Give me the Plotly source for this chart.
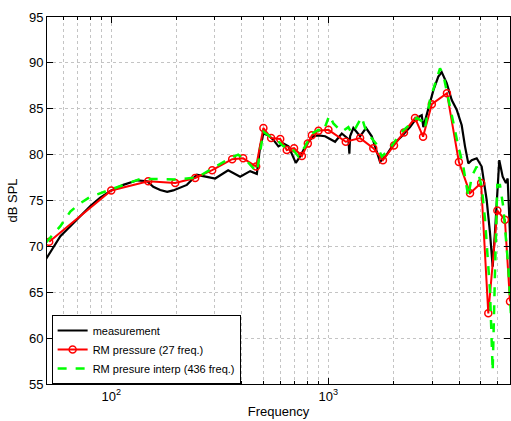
import numpy as np
import plotly.graph_objects as go

# measurement (black)
meas_f = [50, 58.3, 64.8, 72.0, 80.1, 89.0, 100, 113.6, 131.7, 146.4, 156.1, 168.1, 181.0, 192.9,
          223.0, 248.0, 275.7, 301.0, 345.5, 392.3, 436.2, 468.3, 485.0, 502.2, 529.5, 558.3,
          588.6, 620.6, 654.6, 707.9, 741.0, 795.5, 853.1, 899.5, 965.6, 1073.6, 1152.6, 1236.0,
          1249.2, 1258.5, 1303.2, 1399.3, 1491.1, 1583.9, 1640.3, 1729.6, 1856.7, 1991.0, 2176.3,
          2376.9, 2551.5, 2690.3, 2736.5, 2885.3, 3042.5, 3207.9, 3325.2, 3506.1, 3698.9, 3898.3,
          4111.1, 4257.1, 4408.7, 4570.0, 4818.5, 5080.6, 5357.5, 5548.1, 5708.8, 5850.0, 6122.8,
          6346.8, 6572.9, 6692.0, 6857.4, 6950]
meas_db = [68.6, 71.1, 72.2, 73.3, 74.4, 75.3, 76.1, 76.7, 77.2, 77.1, 76.5, 76.15, 75.95, 76.1,
           76.7, 77.8, 77.6, 77.4, 78.3, 77.6, 78.2, 77.9, 80.9, 82.3, 82.1, 81.6,
           80.9, 81.2, 80.9, 79.1, 79.8, 81.2, 82.0, 82.1, 82.0, 81.4, 82.3, 81.7,
           80.1, 82.0, 82.9, 82.0, 82.9, 82.0, 80.9, 79.2, 80.0, 81.1, 82.0,
           83.0, 84.0, 84.3, 83.0, 84.9, 87.0, 88.5, 89.0, 87.8, 85.95, 84.9,
           83.2, 80.9, 79.05, 79.4, 79.6, 78.7, 75.05, 71.5, 67.8, 71.5, 79.4,
           77.6, 76.9, 77.4, 71.4, 62.0]

# RM pressure (red, markers)
rm_f = [51.8, 100, 148.0, 197.0, 243.5, 291.6, 360.5, 405.0, 464.9, 502, 545, 600, 643, 695, 755,
        804, 839, 900, 1000, 1202, 1400, 1610, 1783, 2005, 2229, 2505, 2729, 2994, 3515, 3990,
        4490, 5050, 5450, 6000, 6500, 6860]
rm_db = [70.5, 76.1, 77.1, 76.9, 77.45, 78.3, 79.5, 79.6, 78.7, 82.9, 81.8, 81.7, 80.5, 80.7, 79.85,
         81.2, 82.1, 82.6, 82.7, 81.4, 81.8, 80.7, 79.4, 81.0, 82.4, 84.0, 81.95, 85.5, 86.7, 79.2,
         75.8, 76.9, 62.7, 73.9, 72.9, 64.0]

# RM pressure interp (green dashed)
itp_f = [50, 58.3, 64.8, 72.0, 80.1, 89.0, 100, 118.1, 136.0, 156.1, 181.0, 200.6, 248.0, 294.7,
         352.7, 384.1, 421.2, 468.3, 502.2, 539.1, 578.7, 620.6, 666.5, 727.6, 781.3, 838.8,
         899.5, 948.4, 1010.6, 1054.4, 1152.6, 1236.0, 1281.3, 1341.2, 1424.7, 1475.4, 1555.6,
         1657.8, 1760.9, 1856.7, 1991.0, 2137.5, 2334.1, 2551.5, 2718.9, 2786.1, 2937.8, 3097.6,
         3266.0, 3382.4, 3566.4, 3762.0, 3966.1, 4181.3, 4408.7, 4570.0, 4818.5, 5080.6, 5261.5,
         5548.1, 5708.8, 5850.0, 5994.5, 6168.1, 6387.9, 6735.2, 6950]
itp_db = [70.4, 72.2, 73.8, 74.7, 75.4, 75.8, 76.2, 76.9, 77.35, 77.35, 77.3, 77.3, 77.5, 78.5,
          79.6, 80.0, 79.3, 78.1, 82.5, 81.95, 81.6, 80.9, 80.9, 79.8, 80.9, 82.3,
          82.7, 82.5, 84.3, 83.4, 82.5, 83.0, 82.3, 83.0, 84.1, 82.9, 82.0,
          81.2, 79.8, 80.3, 81.2, 82.3, 83.2, 84.0, 83.6, 82.9, 86.0, 87.8,
          89.4, 88.7, 86.0, 83.4, 80.9, 78.7, 75.4, 77.6, 78.7, 76.5, 73.0,
          65.2, 56.4, 67.1, 76.7, 76.7, 74.3, 67.8, 62.0]

y_ticks = [55, 60, 65, 70, 75, 80, 85, 90, 95]
x_major = [100, 1000]
x_major_text = ["10<sup>2</sup>", "10<sup>3</sup>"]
x_minor = [50, 60, 70, 80, 90, 200, 300, 400, 500, 600, 700, 800, 900,
           2000, 3000, 4000, 5000, 6000]

FONT = "Liberation Sans, Arial, sans-serif"
GRID = "#c4c4c4"

fig = go.Figure()
fig.add_trace(go.Scatter(x=meas_f, y=meas_db, mode="lines", name="measurement",
                         line=dict(color="black", width=2.2)))
fig.add_trace(go.Scatter(x=rm_f, y=rm_db, mode="lines+markers", name="RM pressure (27 freq.)",
                         line=dict(color="#ff0000", width=2),
                         marker=dict(symbol="circle-open", size=7, color="#ff0000",
                                     line=dict(width=1.5, color="#ff0000"))))
fig.add_trace(go.Scatter(x=itp_f, y=itp_db, mode="lines", name="RM presure interp (436 freq.)",
                         line=dict(color="#00ff00", width=2.5, dash="dash")))

fig.update_layout(
    width=511, height=421,
    margin=dict(l=47, r=1, t=17, b=37),
    paper_bgcolor="white", plot_bgcolor="white",
    font=dict(family=FONT, size=13, color="black"),
    showlegend=True,
    legend=dict(x=0.01, y=0.0, xanchor="left", yanchor="bottom",
                bgcolor="white", bordercolor="black", borderwidth=1,
                font=dict(size=11, family=FONT), tracegroupgap=0,
                itemwidth=30),
)
fig.update_xaxes(
    type="log", range=[np.log10(50.6), np.log10(6860)],
    tickvals=x_major, ticktext=x_major_text,
    ticks="inside", ticklen=6, tickcolor="black",
    showline=True, linecolor="black", linewidth=1, mirror="ticks",
    showgrid=True, gridcolor=GRID, griddash="dot", gridwidth=1,
    minor=dict(tickvals=x_minor, ticks="inside", ticklen=3, tickcolor="black",
               showgrid=True, gridcolor=GRID, griddash="dot", gridwidth=1),
    title=dict(text="Frequency", font=dict(size=13), standoff=4),
    zeroline=False,
)
fig.update_yaxes(
    range=[55, 95], tickvals=y_ticks,
    ticks="inside", ticklen=6, tickcolor="black",
    showline=True, linecolor="black", linewidth=1, mirror="ticks",
    showgrid=True, gridcolor=GRID, griddash="dot", gridwidth=1,
    title=dict(text="dB SPL", font=dict(size=13), standoff=8),
    zeroline=False,
)
fig.write_html("out.html")
